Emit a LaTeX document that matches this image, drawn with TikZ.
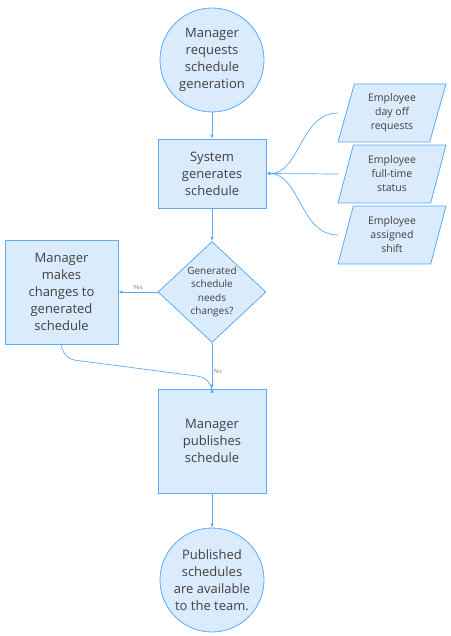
\documentclass[tikz,border=0pt]{standalone}
\usepackage{fontspec}
\setmainfont{Open Sans}
\usetikzlibrary{shapes.geometric,arrows.meta}
\definecolor{bfill}{HTML}{DAEBFB}
\definecolor{bline}{HTML}{5BABF5}
\definecolor{btext}{HTML}{404040}
\tikzset{
  base/.style={draw=bline, fill=bfill, line width=0.8pt, text=btext, align=center, inner sep=0pt},
  roundbox/.style={base, circle, minimum size=104pt, font=\fontsize{13}{17}\selectfont},
  stepbox/.style={base, rectangle, font=\fontsize{13}{17}\selectfont},
  databox/.style={base, trapezium, trapezium left angle=67, trapezium right angle=113,
    minimum height=58pt, minimum width=108pt, trapezium stretches body,
    font=\fontsize{10.5}{14}\selectfont},
  decbox/.style={base, diamond, minimum width=108pt, minimum height=101pt},
  link/.style={draw=bline, line width=0.7pt, -{Latex[length=4pt,width=3.5pt]}},
  tag/.style={text=btext!70, font=\fontsize{6}{7}\selectfont}
}
\begin{document}
\begin{tikzpicture}[x=1pt,y=-1pt]
\useasboundingbox (0,0) rectangle (450,636);
\node[roundbox] (start) at (212,60) {Manager\\requests\\schedule\\generation};
\node[stepbox, minimum width=108pt, minimum height=69pt] (sys) at (212,173.5) {System\\generates\\schedule};
\node[databox] (d1) at (392,113) {Employee\\day off\\requests};
\node[databox] (d2) at (392,174) {Employee\\full-time\\status};
\node[databox] (d3) at (392,235) {Employee\\assigned\\shift};
\coordinate (c1) at (338,113);
\coordinate (c2) at (338,174);
\coordinate (c3) at (338,235);
\node[decbox] (dec) at (212,292) {};
\node[text=btext, align=center, font=\fontsize{10}{13.3}\selectfont] (dect) at (dec) {Generated\\schedule\\needs\\changes?};
\node[stepbox, minimum width=113pt, minimum height=104pt] (chg) at (61.5,292) {Manager\\makes\\changes to\\generated\\schedule};
\node[stepbox, minimum width=108pt, minimum height=104pt] (pub) at (212,441) {Manager\\publishes\\schedule};
\node[roundbox] (end) at (212,580) {Published\\schedules\\are available\\to the team.};
\node[tag] (yes) at (138,287) {Yes};
\node[tag] (no) at (218,371) {No};

\draw[link] (start) -- (sys);
\draw[link] (c1) .. controls (300,113) and (300,174) .. (sys.east);
\draw[link] (c2) -- (sys.east);
\draw[link] (c3) .. controls (300,235) and (300,174) .. (sys.east);
\draw[link] (sys) -- (dec);
\draw[link] (dec.west) -- (chg.east);
\draw[link] (dec.south) -- (pub.north);
\draw[link, rounded corners=14pt] (chg.south) -- ++(0,14) -- (212,378) -- (pub.north);
\draw[link] (pub) -- (end);
\end{tikzpicture}
\end{document}
